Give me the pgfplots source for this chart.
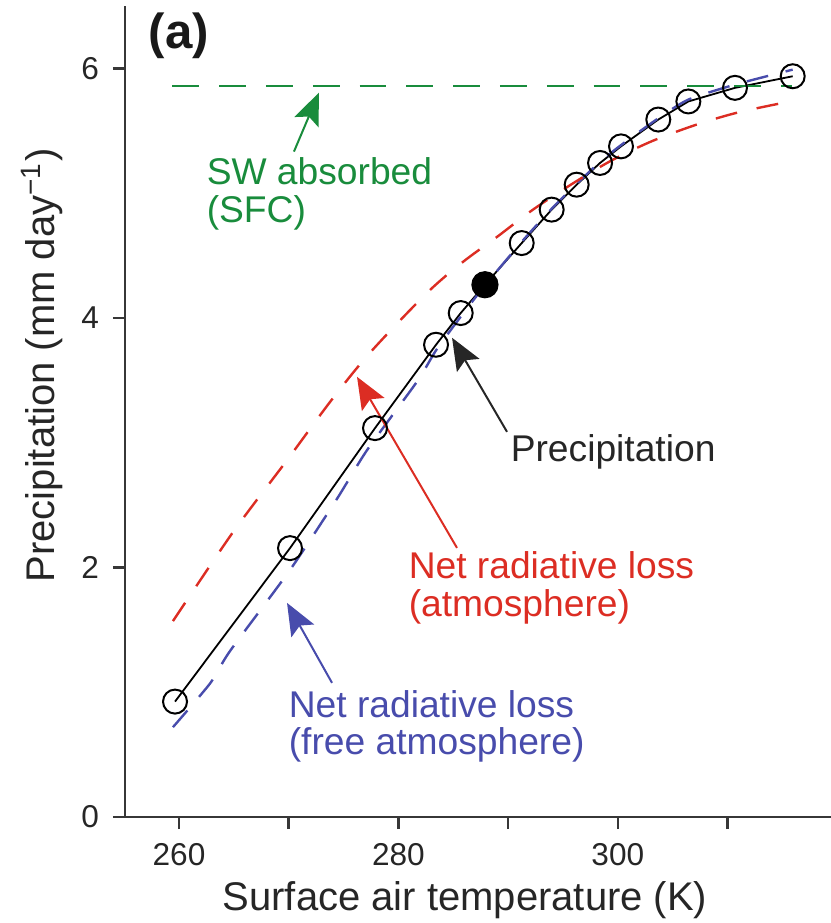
\documentclass[border=0pt]{standalone}
\usepackage{fontspec}
\setmainfont{Liberation Sans}
\usepackage{pgfplots}
\pgfplotsset{compat=1.18}
\usetikzlibrary{arrows.meta}
\definecolor{myred}{RGB}{220,45,35}
\definecolor{myblue}{RGB}{72,76,172}
\definecolor{mygreen}{RGB}{25,140,60}
\definecolor{axgray}{RGB}{55,55,55}
\begin{document}
\begin{tikzpicture}
\begin{axis}[
  name=ax,
  scale only axis, width=176.5pt, height=202.75pt,
  xmin=255.08, xmax=319.43, ymin=0, ymax=6.5,
  axis x line*=bottom, axis y line*=left,
  axis line style={-, line width=0.6pt, draw=axgray},
  tick align=outside, major tick length=3pt,
  tick style={line width=0.6pt, draw=axgray},
  xtick={260,270,280,290,300,310}, xticklabels={260,,280,,300,},
  ytick={0,2,4,6},
  tick label style={font=\fontsize{7.9}{9}\selectfont, text=black!85},
  /pgf/number format/assume math mode=true,
  xlabel={Surface air temperature (K)},
  ylabel={Precipitation (mm day\textsuperscript{−1})},
  label style={font=\fontsize{10}{12}\selectfont, text=black!85},
  x label style={at={(axis description cs:0.4816,-0.1159)}, anchor=base},
  y label style={at={(axis description cs:-0.0992,0.557)}, anchor=base, rotate=0},
  clip=false,
]
% Precipitation (black line with open circles)
\addplot[black, line width=0.45pt, mark=o, mark size=3pt, mark options={solid, line width=0.5pt}] coordinates {
(259.64,0.925) (270.12,2.155) (277.87,3.117) (283.43,3.785) (285.68,4.039)
(287.89,4.266) (291.24,4.60) (293.97,4.868) (296.25,5.068) (298.38,5.242)
(300.29,5.375) (303.69,5.59) (306.43,5.735) (310.68,5.844) (315.94,5.937)
};
\addplot[black, only marks, mark=*, mark size=3.2pt] coordinates {(287.89,4.266)};
% Net radiative loss (free atmosphere)
\addplot[myblue, line width=0.6pt, dash pattern=on 5.5pt off 4.5pt, smooth, tension=0.4] coordinates {
(259.45,0.72) (262.83,1.07) (264.65,1.33) (270.12,1.98) (274.4,2.55) (277.14,2.94)
(281.7,3.49) (283.43,3.74) (285.68,4.01) (287.89,4.26) (291.24,4.61) (293.97,4.875)
(296.25,5.075) (298.38,5.25) (300.29,5.385) (303.69,5.60) (306.43,5.75) (310.68,5.87) (315.94,5.99)
};
% Net radiative loss (atmosphere)
\addplot[myred, line width=0.6pt, dash pattern=on 5.5pt off 5pt, smooth, tension=0.5] coordinates {
(259.45,1.57) (264.9,2.28) (269.85,2.86) (273.8,3.33) (277.4,3.72) (282.6,4.20)
(285.9,4.45) (289.0,4.65) (292.3,4.87) (296.3,5.10) (299.6,5.27) (303.2,5.42)
(307.2,5.55) (311.1,5.65) (316.0,5.74)
};
% SW absorbed (SFC)
\addplot[mygreen, line width=0.6pt, dash pattern=on 6.7pt off 5pt] coordinates {
(259.4,5.86) (315.9,5.86)
};
% Annotations
\node[anchor=base west, font=\fontsize{12.3}{14}\selectfont\bfseries, text=black!90, inner sep=0pt] at (axis cs:257.17,6.159) {(a)};
\node[anchor=base west, font=\fontsize{9.3}{11}\selectfont, text=mygreen, inner sep=0pt] at (axis cs:262.46,5.068) {SW absorbed};
\node[anchor=base west, font=\fontsize{9.3}{11}\selectfont, text=mygreen, inner sep=0pt] at (axis cs:262.46,4.763) {(SFC)};
\node[anchor=base west, font=\fontsize{9.3}{11}\selectfont, text=black!85, inner sep=0pt] at (axis cs:290.17,2.847) {Precipitation};
\node[anchor=base west, font=\fontsize{9.3}{11}\selectfont, text=myred, inner sep=0pt] at (axis cs:280.875,1.909) {Net radiative loss};
\node[anchor=base west, font=\fontsize{9.3}{11}\selectfont, text=myred, inner sep=0pt] at (axis cs:280.875,1.604) {(atmosphere)};
\node[anchor=base west, font=\fontsize{9.3}{11}\selectfont, text=myblue, inner sep=0pt] at (axis cs:269.94,0.794) {Net radiative loss};
\node[anchor=base west, font=\fontsize{9.3}{11}\selectfont, text=myblue, inner sep=0pt] at (axis cs:269.94,0.497) {(free atmosphere)};
\draw[mygreen, line width=0.5pt, -{Stealth[length=8pt, width=6.5pt, inset=1.5pt]}] (axis cs:270.48,5.333) -- (axis cs:272.76,5.806);
\draw[black!85, line width=0.5pt, -{Stealth[length=8pt, width=6.5pt, inset=1.5pt]}] (axis cs:289.90,3.087) -- (axis cs:284.89,3.841);
\draw[myred, line width=0.5pt, -{Stealth[length=8pt, width=6.5pt, inset=1.5pt]}] (axis cs:285.34,2.157) -- (axis cs:276.23,3.528);
\draw[myblue, line width=0.5pt, -{Stealth[length=8pt, width=6.5pt, inset=1.5pt]}] (axis cs:273.95,1.075) -- (axis cs:269.85,1.716);
\end{axis}
\pgfresetboundingbox
\useasboundingbox ([xshift=-31.25pt,yshift=-26.5pt]ax.south west) rectangle ([yshift=1.5pt]ax.north east);
\end{tikzpicture}
\end{document}
